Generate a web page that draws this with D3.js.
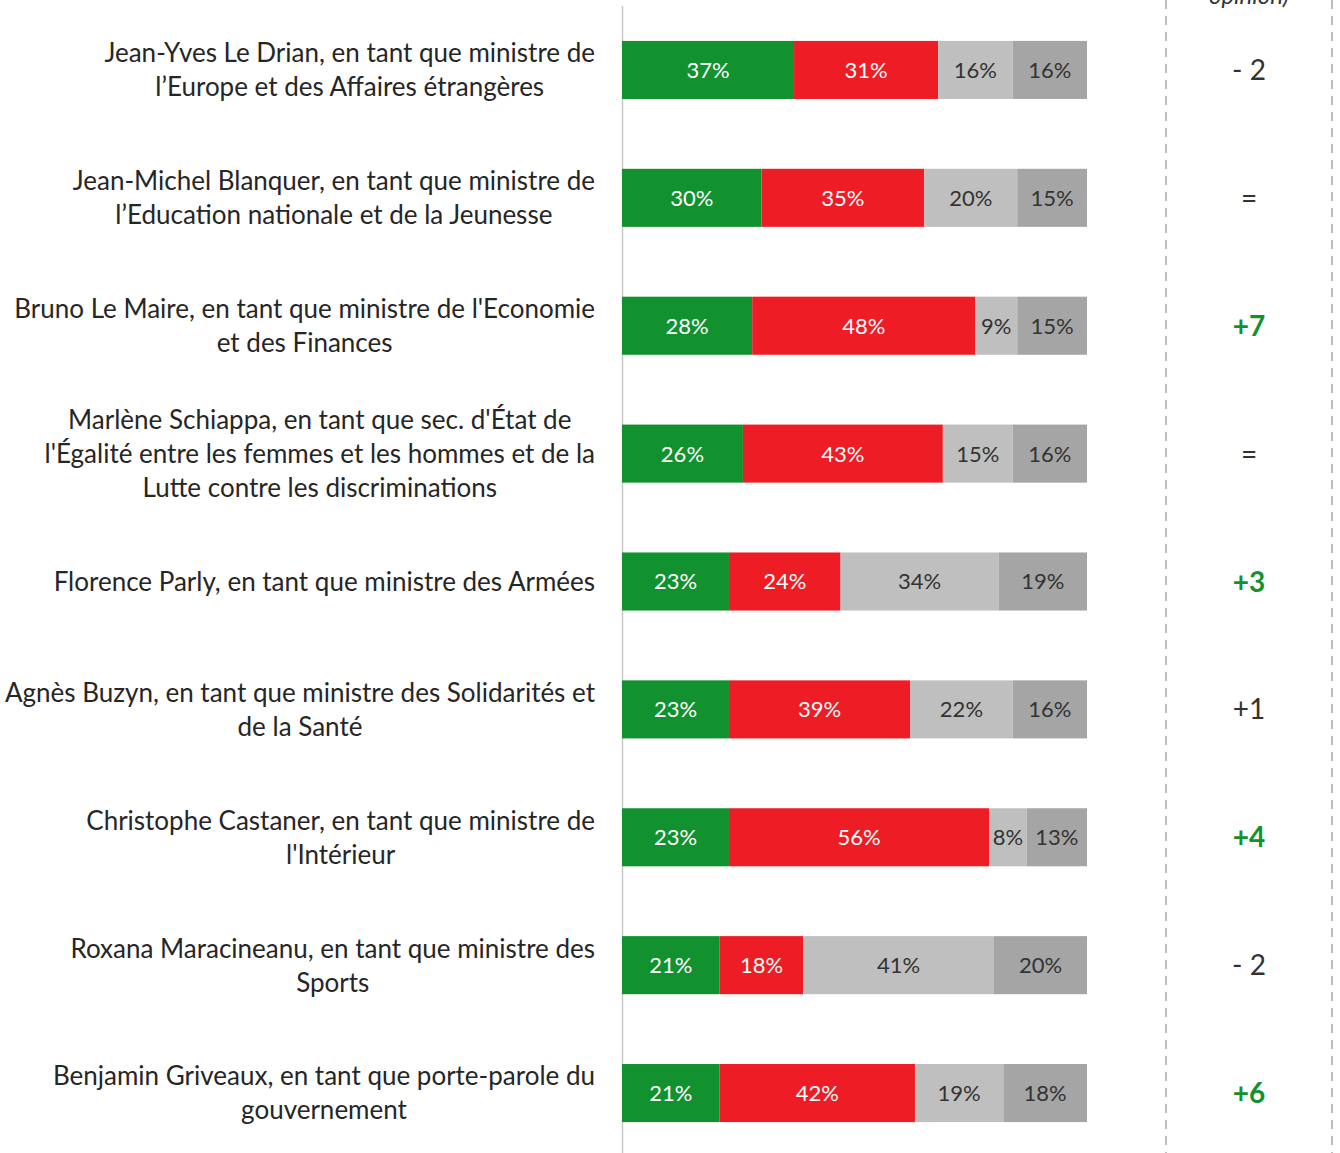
<!DOCTYPE html>
<html>
<head>
<meta charset="utf-8">
<script src="https://cdn.jsdelivr.net/npm/d3@7"></script>
<style>
  body { margin: 0; background: #fff; }
  svg { display: block; font-family: Lato, "Open Sans", sans-serif; }
</style>
</head>
<body>
<svg id="chart" width="1340" height="1153"></svg>
<script>
// ---- Data ----
var LABELS = [
  ["Jean-Yves Le Drian, en tant que ministre de", "l\u2019Europe et des Affaires étrangères"],
  ["Jean-Michel Blanquer, en tant que ministre de", "l\u2019Education nationale et de la Jeunesse"],
  ["Bruno Le Maire, en tant que ministre de l'Economie", "et des Finances"],
  ["Marlène Schiappa, en tant que sec. d'État de", "l'Égalité entre les femmes et les hommes et de la", "Lutte contre les discriminations"],
  ["Florence Parly, en tant que ministre des Armées"],
  ["Agnès Buzyn, en tant que ministre des Solidarités et", "de la Santé"],
  ["Christophe Castaner, en tant que ministre de", "l'Intérieur"],
  ["Roxana Maracineanu, en tant que ministre des", "Sports"],
  ["Benjamin Griveaux, en tant que porte-parole du", "gouvernement"]
];
var GOOD    = [37, 30, 28, 26, 23, 23, 23, 21, 21];
var BAD     = [31, 35, 48, 43, 24, 39, 56, 18, 42];
var NEUTRAL = [16, 20,  9, 15, 34, 22,  8, 41, 19];
var NOOPIN  = [16, 15, 15, 16, 19, 16, 13, 20, 18];
var CHANGE  = ["- 2", "=", "+7", "=", "+3", "+1", "+4", "- 2", "+6"];
var CHANGE_BOLD = [false, false, true, false, true, false, true, false, true];
var SERIES = ["good", "bad", "neutral", "noopin"];

var COLORS = { good: "#12912f", bad: "#ee1c25", neutral: "#bfbfbf", noopin: "#a5a5a5" };
var TEXT_COLORS = { good: "#fff", bad: "#fff", neutral: "#333", noopin: "#333" };

var rows = LABELS.map(function (l, i) {
  return { label: l, good: GOOD[i], bad: BAD[i], neutral: NEUTRAL[i], noopin: NOOPIN[i],
           change: CHANGE[i], bold: CHANGE_BOLD[i] };
});

var svg = d3.select("#chart");

var x = d3.scaleLinear().domain([0, 100]).range([622, 1087]);
var y = d3.scaleBand().domain(d3.range(rows.length)).range([6, 1157]).paddingInner(0.546).paddingOuter(0.273);

var stack = d3.stack().keys(SERIES)(rows);

// axis line
svg.append("line")
  .attr("x1", 622.5).attr("x2", 622.5).attr("y1", 6).attr("y2", 1153)
  .attr("stroke", "#c8c8c8").attr("stroke-width", 1.5);

// dashed column lines
[1166, 1332].forEach(function (xx) {
  svg.append("line")
    .attr("x1", xx).attr("x2", xx).attr("y1", 0).attr("y2", 1153)
    .attr("stroke", "#bdbdbd").attr("stroke-width", 2)
    .attr("stroke-dasharray", "9,7");
});

// header (cut off at top, as in the source slide)
svg.append("text")
  .attr("x", 1249).attr("y", 4)
  .attr("text-anchor", "middle")
  .attr("font-style", "italic")
  .attr("font-size", 24).attr("fill", "#333")
  .text("opinion)");

// bars
var layers = svg.selectAll(".layer").data(stack).enter().append("g").attr("class", "layer");

layers.selectAll("rect")
  .data(function (d) { return d; })
  .enter().append("rect")
  .attr("x", function (d) { return x(d[0]); })
  .attr("y", function (d, i) { return y(i); })
  .attr("width", function (d) { return x(d[1]) - x(d[0]); })
  .attr("height", y.bandwidth())
  .attr("fill", function () { return COLORS[d3.select(this.parentNode).datum().key]; });

layers.selectAll("text")
  .data(function (d) { return d; })
  .enter().append("text")
  .attr("x", function (d) { return (x(d[0]) + x(d[1])) / 2; })
  .attr("y", function (d, i) { return y(i) + y.bandwidth() / 2; })
  .attr("dy", "0.36em")
  .attr("text-anchor", "middle")
  .attr("font-size", 22)
  .attr("fill", function () { return TEXT_COLORS[d3.select(this.parentNode).datum().key]; })
  .text(function (d) { return (d[1] - d[0]) + "%"; });

// left labels: block right-aligned, lines centred within block
var LINE_H = 34;
rows.forEach(function (r, i) {
  var cy = y(i) + y.bandwidth() / 2;
  var g = svg.append("g");
  var texts = r.label.map(function (line, j) {
    return g.append("text")
      .attr("y", cy + (j - (r.label.length - 1) / 2) * LINE_H)
      .attr("dy", "0.36em")
      .attr("text-anchor", "middle")
      .attr("font-size", 26)
      .attr("fill", "#262626")
      .text(line);
  });
  var maxW = d3.max(texts, function (t) { return t.node().getComputedTextLength(); });
  texts.forEach(function (t) { t.attr("x", 595 - maxW / 2); });
});

// change column
svg.selectAll(".change")
  .data(rows).enter().append("text")
  .attr("class", "change")
  .attr("x", 1249)
  .attr("y", function (d, i) { return y(i) + y.bandwidth() / 2; })
  .attr("dy", "0.36em")
  .attr("text-anchor", "middle")
  .attr("font-size", 28)
  .attr("font-weight", function (d) { return d.bold ? "bold" : "normal"; })
  .attr("fill", function (d) { return d.bold ? "#12912f" : "#333"; })
  .text(function (d) { return d.change; });
</script>
</body>
</html>
